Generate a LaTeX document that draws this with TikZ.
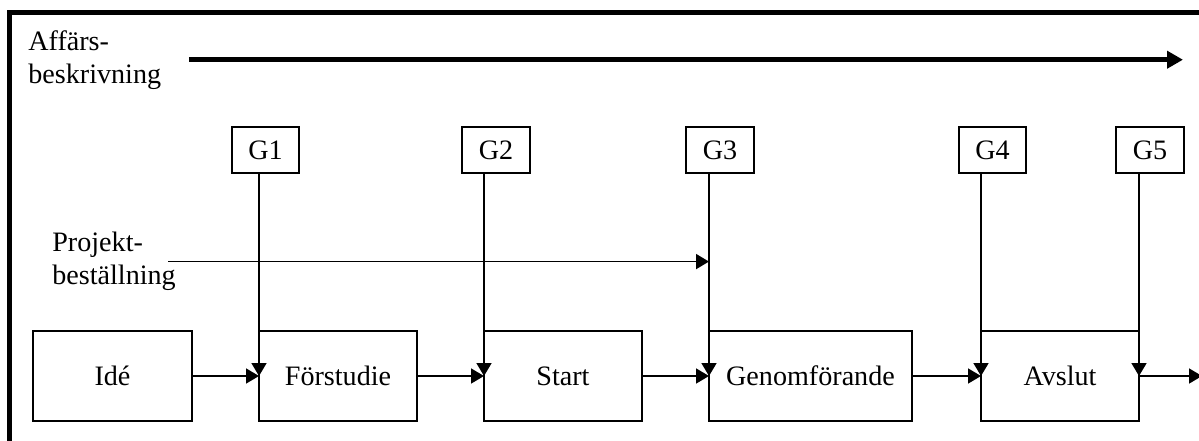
\documentclass[tikz,border=0pt]{standalone}
\usepackage{fontspec}
\setmainfont{Liberation Serif}
\usetikzlibrary{arrows.meta}
\usetikzlibrary{positioning}
\tikzset{>={Triangle[length=0.26cm,width=0.3cm]}}
\tikzstyle{phase} = [rectangle, minimum width=3.16cm, minimum height=1.8cm, text centered, draw=black, line width=1pt, inner sep=0pt, outer sep=0pt]
\tikzstyle{gate} = [rectangle, minimum width=1.35cm, minimum height=0.92cm, text centered, draw=black, line width=1pt, inner sep=0pt, outer sep=0pt]
\tikzstyle{note} = [align=left, inner sep=0pt, anchor=north west]
\tikzstyle{arrow} = [line width=1pt,->]
\tikzstyle{bigarrow} = [line width=2.8pt,-{Triangle[length=0.32cm,width=0.34cm]}]

\begin{document}
\begin{tikzpicture}[font=\fontsize{16}{18.7}\selectfont, node distance=1.34cm]
\useasboundingbox (0,0) rectangle (23.98,-8.8);
% outer frame
\draw [line width=2.5pt] (0.19,-8.9) -- (0.19,-0.25) -- (24.1,-0.25);

% side texts
\node (affars) [note] at (0.56,-0.6) {Affärs-\\beskrivning};
\node (projekt) [note] at (1.04,-4.64) {Projekt-\\beställning};
\coordinate (affend) at (23.66,-1.2);

% phases
\node (idea) [phase, minimum width=3.18cm] at (2.25,-7.52) {Idé};
\node (fors) [phase, right=of idea] {Förstudie};
\node (start) [phase, right=of fors] {Start};
\node (genom) [phase, right=of start, minimum width=4.06cm] {Genomförande};
\node (avslut) [phase, right=1.38cm of genom] {Avslut};
\coordinate (out) at (24.04,-7.52);

% gates
\node (g1) [gate, above=3.16cm of fors.north west, xshift=0.13cm] {G1};
\node (g2) [gate, above=3.16cm of start.north west, xshift=0.24cm] {G2};
\node (g3) [gate, above=3.16cm of genom.north west, xshift=0.22cm] {G3};
\node (g4) [gate, above=3.16cm of avslut.north west, xshift=0.23cm] {G4};
\node (g5) [gate, above=3.16cm of avslut.north east, xshift=0.22cm] {G5};

\draw [bigarrow] ([xshift=0.55cm]affars.east) -- (affars.east -| affend);
\draw [arrow] ([xshift=-0.16cm]projekt.east) -- (projekt.east -| genom.west);
\draw [arrow] (g1.south -| fors.west) -- (fors.west);
\draw [arrow] (g2.south -| start.west) -- (start.west);
\draw [arrow] (g3.south -| genom.west) -- (genom.west);
\draw [arrow] (g4.south -| avslut.west) -- (avslut.west);
\draw [arrow] (g5.south -| avslut.east) -- (avslut.east);
\draw [arrow] (idea) -- (fors);
\draw [arrow] (fors) -- (start);
\draw [arrow] (start) -- (genom);
\draw [arrow] (genom) -- (avslut);
\draw [arrow] (avslut) -- (out);
\end{tikzpicture}
\end{document}
